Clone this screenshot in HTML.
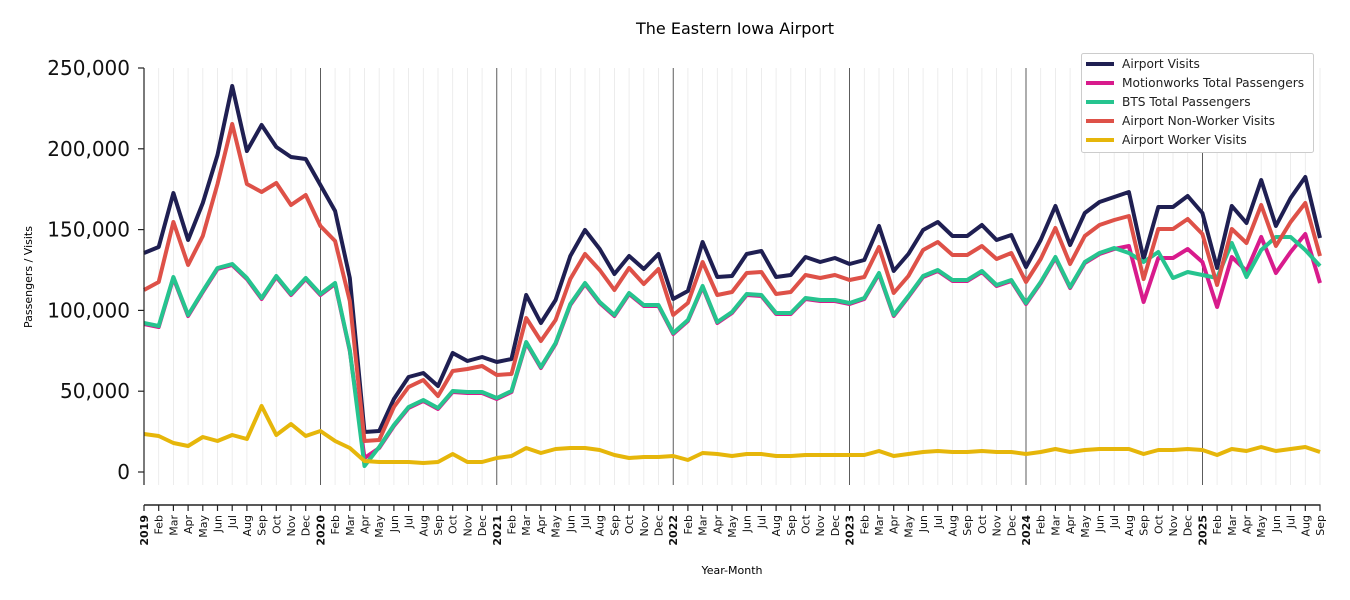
<!DOCTYPE html>
<html><head><meta charset="utf-8"><style>
html,body{margin:0;padding:0;background:#fff;}
svg{display:block;font-family:"DejaVu Sans","Liberation Sans",sans-serif;}
</style></head><body>
<svg id="s" width="1350" height="600" viewBox="0 0 1350 600" xmlns="http://www.w3.org/2000/svg">
<text x="735" y="34" font-size="16" text-anchor="middle">The Eastern Iowa Airport</text>
<g id="grid"></g>
<g id="series" fill="none" stroke-width="4" stroke-linejoin="round"></g>
<g id="axes"></g>
<text x="732" y="574" font-size="11" text-anchor="middle">Year-Month</text>
<text transform="translate(32,277) rotate(-90)" font-size="11" text-anchor="middle">Passengers / Visits</text>
<g>
<rect x="1081.5" y="53.5" width="232" height="99" rx="2" fill="#fff" stroke="#ccc"/>
<line x1="1086" y1="64" x2="1114" y2="64" stroke="#1f1f52" stroke-width="4"/>
<line x1="1086" y1="83" x2="1114" y2="83" stroke="#d81b8c" stroke-width="4"/>
<line x1="1086" y1="102" x2="1114" y2="102" stroke="#26c48f" stroke-width="4"/>
<line x1="1086" y1="121" x2="1114" y2="121" stroke="#de5148" stroke-width="4"/>
<line x1="1086" y1="140" x2="1114" y2="140" stroke="#e6b60a" stroke-width="4"/>
<g font-size="12.2" fill="#222">
<text x="1122" y="68">Airport Visits</text>
<text x="1122" y="87">Motionworks Total Passengers</text>
<text x="1122" y="106">BTS Total Passengers</text>
<text x="1122" y="125">Airport Non-Worker Visits</text>
<text x="1122" y="144">Airport Worker Visits</text>
</g></g>
</svg>
<script>
var NS="http://www.w3.org/2000/svg";
function el(p,t,a,txt){var e=document.createElementNS(NS,t);for(var k in a)e.setAttribute(k,a[k]);if(txt!=null)e.textContent=txt;document.getElementById(p).appendChild(e);return e;}
var X0=144,DX=14.7,N=81;
function xi(i){return X0+i*DX;}
for(var i=0;i<N;i++){var yr=i%12==0;
 if(!yr)el('grid','line',{x1:xi(i),y1:68,x2:xi(i),y2:485,stroke:'#e8e8e8','stroke-width':0.8});}
for(var i=12;i<N;i+=12)el('grid','line',{x1:xi(i),y1:68,x2:xi(i),y2:485,stroke:'#333','stroke-width':0.8});
var av=[253,247,193,240,203,155,86,151,125,147,157,159,185,211,278,432,431,399,377,373,386,353,361,357,362,359,295,323,300,256,230,249,274,256,269,254,299,291,242,277,276,254,251,277,275,257,262,258,264,260,226,271,254,230,222,236,236,225,240,235,267,240,206,245,213,202,197,192,259,207,207,196,213,268,206,223,180,226,198,177,238];
var nw=[290,282,222,265,236,184,124,184,192,183,205,195,226,241,301,441,440,407,387,380,396,371,369,366,375,374,318,341,320,279,254,270,290,268,284,269,315,303,262,295,292,273,272,294,292,275,278,275,280,277,247,293,276,250,242,255,255,246,259,253,282,259,228,264,236,225,220,216,279,229,229,219,234,285,229,243,205,246,222,203,256];
var bts=[323,326,277,315,291,268,264,278,298,276,294,278,294,283,350,466,447,425,407,400,408,391,392,392,398,391,342,367,343,304,283,302,315,293,305,305,333,320,286,322,312,294,295,313,313,298,300,300,303,298,273,315,296,276,270,280,280,271,285,280,303,282,257,287,262,253,248,253,262,252,278,272,275,278,243,277,250,237,237,250,266];
var mw=bts.map(function(v){return v+1;});
var mwt=[246,302,258,258,249,262,307,257,271,237,273,252,234,283];
for(var k=0;k<mwt.length;k++)mw[67+k]=mwt[k];
mw[15]=458;
var wk=[434,436,443,446,437,441,435,439,406,435,424,436,431,441,448,461,462,462,462,463,462,454,462,462,458,456,448,453,449,448,448,450,455,458,457,457,456,460,453,454,456,454,454,456,456,455,455,455,455,455,451,456,454,452,451,452,452,451,452,452,454,452,449,452,450,449,449,449,454,450,450,449,450,455,449,451,447,451,449,447,452];
function pl(d,c){el('series','polyline',{points:d.map(function(v,i){return xi(i).toFixed(1)+','+v;}).join(' '),stroke:c});}
pl(av,'#1f1f52');pl(mw,'#d81b8c');pl(bts,'#26c48f');pl(nw,'#de5148');pl(wk,'#e6b60a');
el('axes','line',{x1:144,y1:68,x2:144,y2:485,stroke:'#222','stroke-width':1.2});
el('axes','line',{x1:144,y1:505,x2:1320.5,y2:505,stroke:'#222','stroke-width':1.6});
var labs=['250,000','200,000','150,000','100,000','50,000','0'];
for(var j=0;j<6;j++){var y=68+j*80.8;
 el('axes','line',{x1:138,y1:y,x2:144,y2:y,stroke:'#222','stroke-width':1.2});
 el('axes','text',{x:130,y:y+7,'font-size':20,'text-anchor':'end',fill:'#111'},labs[j]);}
var mn=['Jan','Feb','Mar','Apr','May','Jun','Jul','Aug','Sep','Oct','Nov','Dec'];
for(var i=0;i<N;i++){var x=xi(i),m=i%12;
 el('axes','line',{x1:x,y1:505,x2:x,y2:511,stroke:'#222','stroke-width':1.2});
 var t=m==0?String(2019+i/12):mn[m];
 el('axes','text',{transform:'translate('+(x+4)+',515) rotate(-90)','font-size':11,'text-anchor':'end','font-weight':m==0?'bold':'normal',fill:'#111'},t);}
</script>
</body></html>
